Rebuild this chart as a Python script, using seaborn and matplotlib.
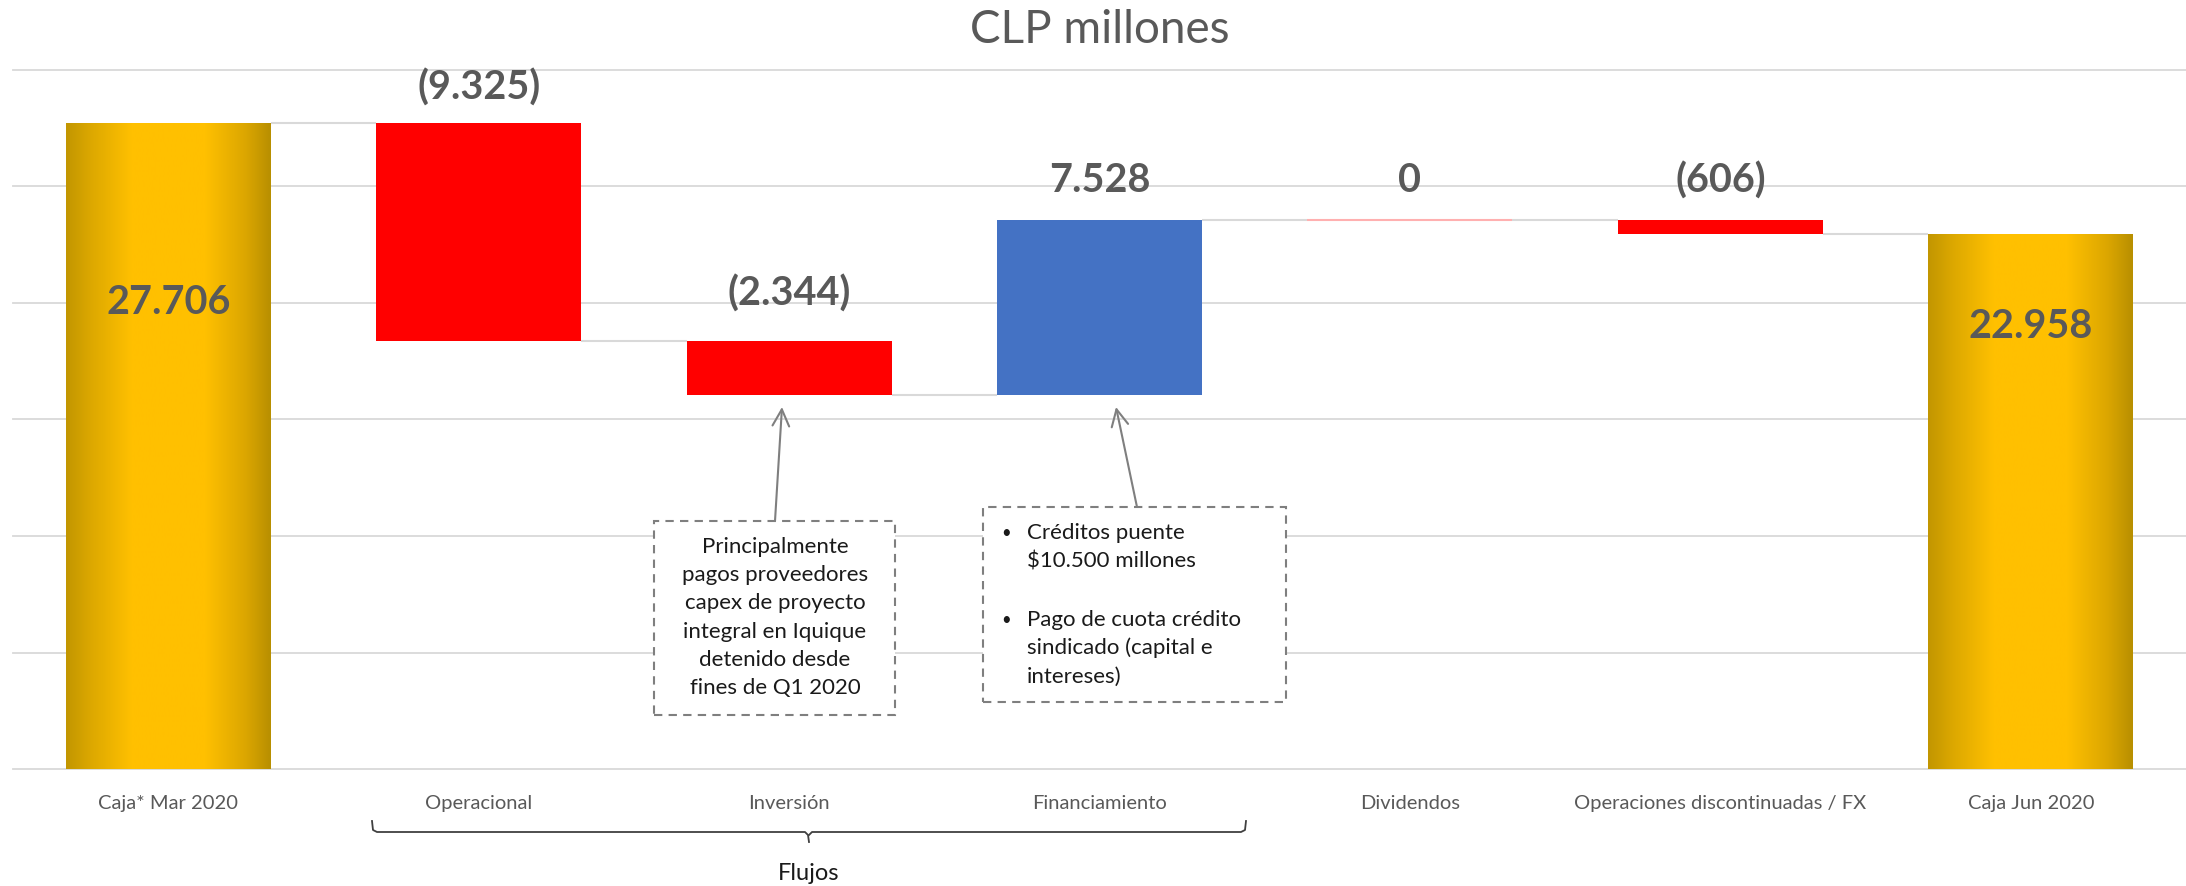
import numpy as np
import pandas as pd
import matplotlib
matplotlib.use("Agg")
import matplotlib.pyplot as plt
import seaborn as sns
from matplotlib.colors import LinearSegmentedColormap
from matplotlib.patches import Rectangle, FancyArrowPatch
from matplotlib.lines import Line2D

# ---------------- data ----------------
categories = ["Caja* Mar 2020", "Operacional", "Inversión", "Financiamiento",
              "Dividendos", "Operaciones discontinuadas / FX", "Caja Jun 2020"]
changes = [27706, -9325, -2344, 7528, 0, -606, 22958]
kinds = ["total", "delta", "delta", "delta", "delta", "delta", "total"]
value_labels = ["27.706", "(9.325)", "(2.344)", "7.528", "0", "(606)", "22.958"]
y_max = 30000
y_step = 5000

box1_lines = ["Principalmente", "pagos proveedores", "capex de proyecto",
              "integral en Iquique", "detenido desde", "fines de Q1 2020"]
box2_lines = ["Créditos puente", "$10.500 millones", "",
              "Pago de cuota crédito", "sindicado (capital e", "intereses)"]
bracket_label = "Flujos"
title = "CLP millones"

# ---------------- waterfall geometry ----------------
bottoms, heights, ends = [], [], []
level = 0
for c, k in zip(changes, kinds):
    if k == "total":
        bottoms.append(0); heights.append(c); level = c
    else:
        new = level + c
        bottoms.append(min(level, new)); heights.append(abs(c)); level = new
    ends.append(level)

RED, BLUE, GOLD = "#FF0000", "#4472C4", "#FFC000"
colors = []
for c, k in zip(changes, kinds):
    if k == "total":
        colors.append(GOLD)
    elif c > 0:
        colors.append(BLUE)
    else:
        colors.append(RED)

df = pd.DataFrame({"category": categories, "height": heights})

W, H = 2186, 886
def px(x, y):
    return (x / W, 1 - y / H)

plt.rcParams["font.family"] = ["Lato", "DejaVu Sans"]
fig = plt.figure(figsize=(W / 100, H / 100), dpi=100)
ax = fig.add_axes([13 / W, 117 / H, (W - 13) / W, (769 - 70) / H])

sns.barplot(data=df, x="category", y="height", hue="category", order=categories,
            hue_order=categories, palette=colors, legend=False, width=0.66,
            saturation=1, linewidth=0, ax=ax, zorder=3)

patches = sorted(ax.patches, key=lambda p: p.get_x())
gold_cmap = LinearSegmentedColormap.from_list(
    "gold", [(0, "#C29600"), (0.12, "#DCA800"), (0.32, "#FFC000"),
             (0.68, "#FFC000"), (0.88, "#DBA600"), (1, "#B88F00")])
grad = np.linspace(0, 1, 256).reshape(1, -1)
for p, b, k, hgt in zip(patches, bottoms, kinds, heights):
    p.set_y(b)
    if hgt == 0:
        p.set_edgecolor("#FFB0B0"); p.set_linewidth(1.5)
    if k == "total":
        x0, x1 = p.get_x(), p.get_x() + p.get_width()
        im = ax.imshow(grad, extent=[x0, x1, b, b + hgt], aspect="auto",
                       cmap=gold_cmap, zorder=3.5, interpolation="bilinear")
        im.set_clip_path(p)

# connectors
for i in range(len(patches) - 1):
    p, q = patches[i], patches[i + 1]
    ax.plot([p.get_x() + p.get_width(), q.get_x()], [ends[i], ends[i]],
            color="#D9D9D9", lw=1.5, zorder=2, solid_capstyle="butt")

# grid
for y in np.arange(0, y_max + 1, y_step):
    ax.axhline(y, color="#D9D9D9", lw=1.3, zorder=0, clip_on=False)

ax.set_xlim(-0.5, len(categories) - 0.5)
ax.set_ylim(0, y_max)
ax.set_yticks([])
ax.set_xlabel(""); ax.set_ylabel("")
for s in ax.spines.values():
    s.set_visible(False)
ax.tick_params(axis="x", length=0, pad=19, labelsize=14.5, labelcolor="#595959")

# value labels
label_offsets_px = [None, 36, 47, 39, 39, 39, None]
total_label_y = [20000, None, None, None, None, None, 19000]
for i, (lab, k) in enumerate(zip(value_labels, kinds)):
    if k == "total":
        ax.text(i, total_label_y[i], lab, ha="center", va="center",
                fontsize=28.5, fontweight="bold", color="#595959", zorder=5)
    else:
        top = bottoms[i] + heights[i]
        ax.annotate(lab, (i, top), xytext=(0, label_offsets_px[i] * 0.72),
                    textcoords="offset points", ha="center", va="center",
                    fontsize=28.5, fontweight="bold", color="#595959", zorder=5)

# title
fig.text(*px(1100, 30), title, ha="center", va="center", fontsize=33, color="#595959")

# annotation boxes
def box(x0, y0, x1, y1):
    bx, by = px(x0, y1)
    fig.add_artist(Rectangle((bx, by), (x1 - x0) / W, (y1 - y0) / H,
                             transform=fig.transFigure, facecolor="white",
                             edgecolor="#7F7F7F", lw=1.5, ls=(0, (4, 3)), zorder=2))

box(654, 521, 895, 715)
box(983, 507, 1286, 702)
TXT = "#1A1A1A"
for line, y in zip(box1_lines, [547, 575, 603, 632, 660, 688]):
    fig.text(*px(775, y), line, ha="center", va="center", fontsize=16, color=TXT, zorder=3)
for line, y in zip(box2_lines, [533, 562, 591, 620, 648, 677]):
    if line:
        fig.text(*px(1027, y), line, ha="left", va="center", fontsize=16, color=TXT, zorder=3)
for y in [533, 620]:
    fig.text(*px(1006, y), "•", ha="center", va="center", fontsize=12, color=TXT, zorder=3)

# arrows
for (xa, ya), (xb, yb) in [((775, 521), (782, 407)), ((1137, 507), (1116, 407))]:
    fig.add_artist(FancyArrowPatch(px(xa, ya), px(xb, yb), transform=fig.transFigure,
                                   arrowstyle="->,head_length=0.6,head_width=0.3",
                                   mutation_scale=20, color="#7F7F7F", lw=1.5,
                                   shrinkA=0, shrinkB=0, zorder=3))

# bracket
pts_l = [(372, 821), (373, 830), (377, 832), (805, 832), (808, 835), (809, 842)]
pts_r = [(809, 835), (812, 832), (1241, 832), (1245, 830), (1246, 821)]
for pts in (pts_l, pts_r):
    xs = [px(x, y)[0] for x, y in pts]
    ys = [px(x, y)[1] for x, y in pts]
    fig.add_artist(Line2D(xs, ys, transform=fig.transFigure, color="#404040", lw=1.3))
fig.text(*px(809, 873), bracket_label, ha="center", va="center", fontsize=17, color=TXT)

fig.savefig("out.png", dpi=100)
